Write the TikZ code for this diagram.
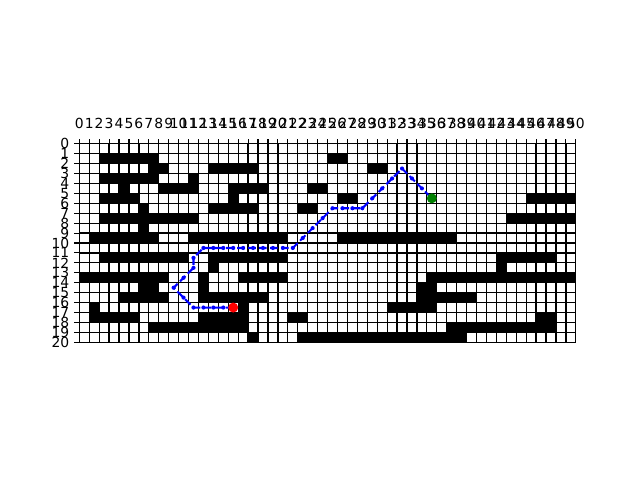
\documentclass[tikz,border=0pt]{standalone}
\usepackage{fontspec}
\setmainfont{DejaVu Sans}
\usepackage{tikz}

\definecolor{goalgreen}{rgb}{0,0.5,0}

\tikzset{
	obstacle/.style={fill=black},
	gridline/.style={line width=0.9pt},
	tickmark/.style={line width=0.8pt},
	ticklabel/.style={inner sep=0pt, font=\fontsize{10}{12}\selectfont},
	route/.style={blue, line width=1.5pt, dash pattern=on 5.5pt off 2.4pt},
}

\def\routepts{15/16,14/16,13/16,12/16,11/16,10/15,9/14,10/13,11/12,11/11,12/10,13/10,14/10,15/10,16/10,17/10,18/10,19/10,20/10,21/10,22/9,23/8,24/7,25/6,26/6,27/6,28/6,29/5,30/4,31/3,32/2,33/3,34/4,35/5}

\begin{document}
\begin{tikzpicture}[x=7.15pt, y=-7.15pt]
	\useasboundingbox (-7.985,-14.47) rectangle (56.463,33.866);
	% occupied cells, row/first/last
	\foreach \r/\a/\b in {1/2/7, 1/25/26, 2/7/8, 2/13/17, 2/29/30, 3/2/7, 3/11/11,
		4/4/4, 4/8/11, 4/15/18, 4/23/24, 5/2/5, 5/15/15, 5/26/27, 5/45/49,
		6/6/6, 6/13/17, 6/22/23, 7/2/11, 7/43/49, 8/6/6, 9/1/7, 9/11/20, 9/26/37,
		11/2/10, 11/13/20, 11/42/47, 12/13/13, 12/42/42,
		13/0/8, 13/12/12, 13/16/20, 13/35/49, 14/6/7, 14/12/12, 14/34/35,
		15/4/8, 15/12/18, 15/34/39, 16/1/1, 16/16/16, 16/31/35,
		17/1/5, 17/12/16, 17/21/22, 17/46/47, 18/7/16, 18/37/47, 19/17/17, 19/22/38}
		\fill[obstacle] (\a,\r) rectangle (\b+1,\r+1);
	\foreach \c in {0,...,50}
		\draw[gridline] (\c,0) -- (\c,20);
	\foreach \r in {0,...,20}
		\draw[gridline] (0,\r) -- (50,\r);
	% axes
	\foreach \c in {0,...,50} {
		\draw[tickmark] (\c,0) -- ++(0,-0.49);
		\node[ticklabel, anchor=base] (xl\c) at (\c,-1.51) {\c};
	}
	\foreach \r in {0,...,20} {
		\draw[tickmark] (0,\r) -- ++(-0.49,0);
		\node[ticklabel, anchor=east] (yl\r) at (-0.98,\r) {\r};
	}
	% route
	\coordinate (start) at (15.5,16.5);
	\coordinate (goal) at (35.5,5.5);
	\draw[route] (start) \foreach \px/\py in \routepts {-- (\px+.5,\py+.5)};
	\foreach \px/\py in \routepts
		\fill[blue] (\px+.5,\py+.5) circle (1.5pt);
	\fill[red] (start) circle (3.6pt);
	\fill[goalgreen] (goal) circle (3.6pt);
\end{tikzpicture}
\end{document}
